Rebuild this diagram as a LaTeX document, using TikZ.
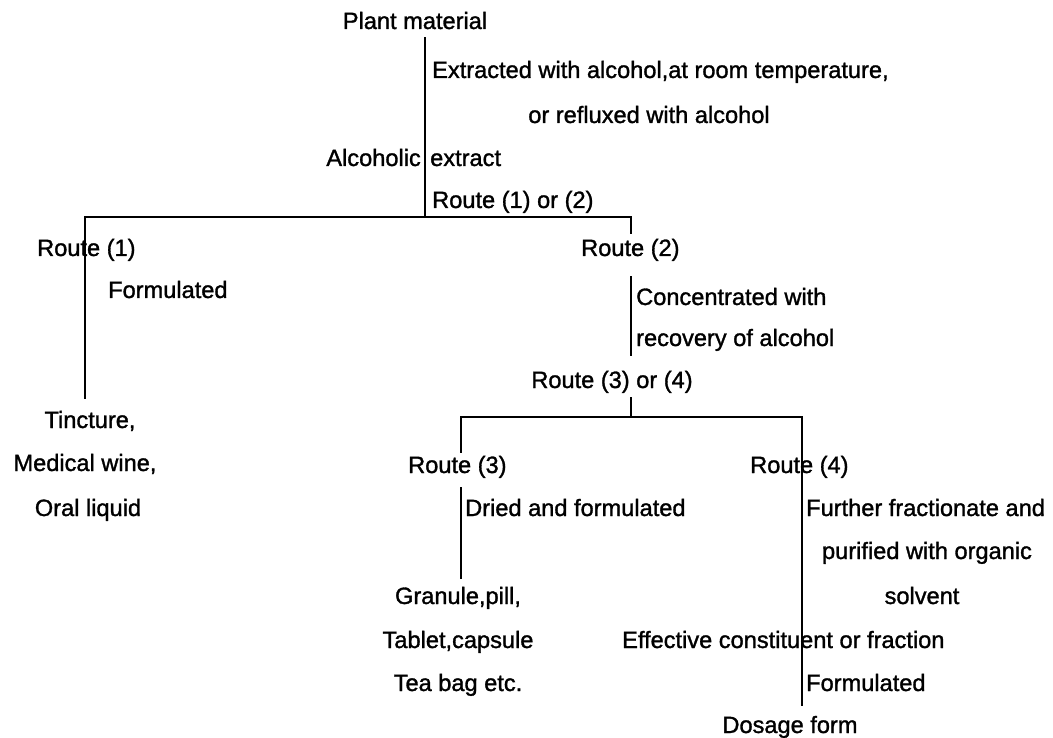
\documentclass[tikz,border=0pt]{standalone}
\usepackage{fontspec}
\setmainfont{Liberation Sans}[FakeBold=1.3]
\begin{document}
\begin{tikzpicture}[x=1pt,y=-1pt,
  lbl/.style={inner sep=0pt, font=\fontsize{23.6}{27}\selectfont},
  wire/.style={line width=1.6pt, line cap=rect}]
\useasboundingbox (0,0) rectangle (1053,738);

% ---- text labels (placed on their baselines) ----
\node[lbl, anchor=base]      (plant) at (415,29)  {Plant material};
\node[lbl, anchor=base west] (ext1)  at (432,78)  {Extracted with alcohol,at room temperature,};
\node[lbl, anchor=base]      (ext2)  at (649,123) {or refluxed with alcohol};
\node[lbl, anchor=base east] (alc1)  at (421,166) {Alcoholic};
\node[lbl, anchor=base west] (alc2)  at (430,166) {extract};
\node[lbl, anchor=base west] (r12)   at (432,208) {Route (1) or (2)};

\node[lbl, anchor=base west] (rt1)   at (37,256)  {Route (1)};
\node[lbl, anchor=base west] (form1) at (108,298) {Formulated};
\node[lbl, anchor=base]      (tinc)  at (90,428)  {Tincture,};
\node[lbl, anchor=base]      (med)   at (85,471)  {Medical wine,};
\node[lbl, anchor=base]      (oral)  at (88,516)  {Oral liquid};

\node[lbl, anchor=base west] (rt2)   at (581,256) {Route (2)};
\node[lbl, anchor=base west] (conc1) at (636,305) {Concentrated with};
\node[lbl, anchor=base west] (conc2) at (636,346) {recovery of alcohol};
\node[lbl, anchor=base]      (r34)   at (612,388) {Route (3) or (4)};

\node[lbl, anchor=base west] (rt3)   at (408,473) {Route (3)};
\node[lbl, anchor=base west] (dried) at (465,516) {Dried and formulated};
\node[lbl, anchor=base]      (gran)  at (458,604) {Granule,pill,};
\node[lbl, anchor=base]      (tab)   at (458,648) {Tablet,capsule};
\node[lbl, anchor=base]      (tea)   at (458,691) {Tea bag etc.};

\node[lbl, anchor=base west] (rt4)   at (750,473) {Route (4)};
\node[lbl, anchor=base west] (fur1)  at (806,516) {Further fractionate and};
\node[lbl, anchor=base]      (fur2)  at (927,559) {purified with organic};
\node[lbl, anchor=base]      (fur3)  at (922,604) {solvent};
\node[lbl, anchor=base west] (eff)   at (622,648) {Effective constituent or fraction};
\node[lbl, anchor=base west] (form2) at (806,691) {Formulated};
\node[lbl, anchor=base]      (dos)   at (790,733) {Dosage form};

% ---- junction points of the tree ----
\coordinate (t0)  at (425,38);
\coordinate (t1)  at (425,217);
\coordinate (hL)  at (85,217);
\coordinate (hR)  at (631,217);
\coordinate (l1b) at (85,398);
\coordinate (r2a) at (631,233);
\coordinate (c0)  at (631,277);
\coordinate (c1)  at (631,355);
\coordinate (k0)  at (631,398);
\coordinate (k1)  at (631,417);
\coordinate (h2L) at (461,417);
\coordinate (h2R) at (802,417);
\coordinate (l3a) at (461,452);
\coordinate (d0)  at (461,488);
\coordinate (d1)  at (461,578);
\coordinate (r4b) at (802,705);

% ---- connecting lines ----
\draw[wire] (t0) -- (t1);
\draw[wire] (l1b) -- (hL) -- (hR) -- (r2a);
\draw[wire] (c0) -- (c1);
\draw[wire] (k0) -- (k1);
\draw[wire] (l3a) -- (h2L) -- (h2R) -- (r4b);
\draw[wire] (d0) -- (d1);
\end{tikzpicture}
\end{document}
